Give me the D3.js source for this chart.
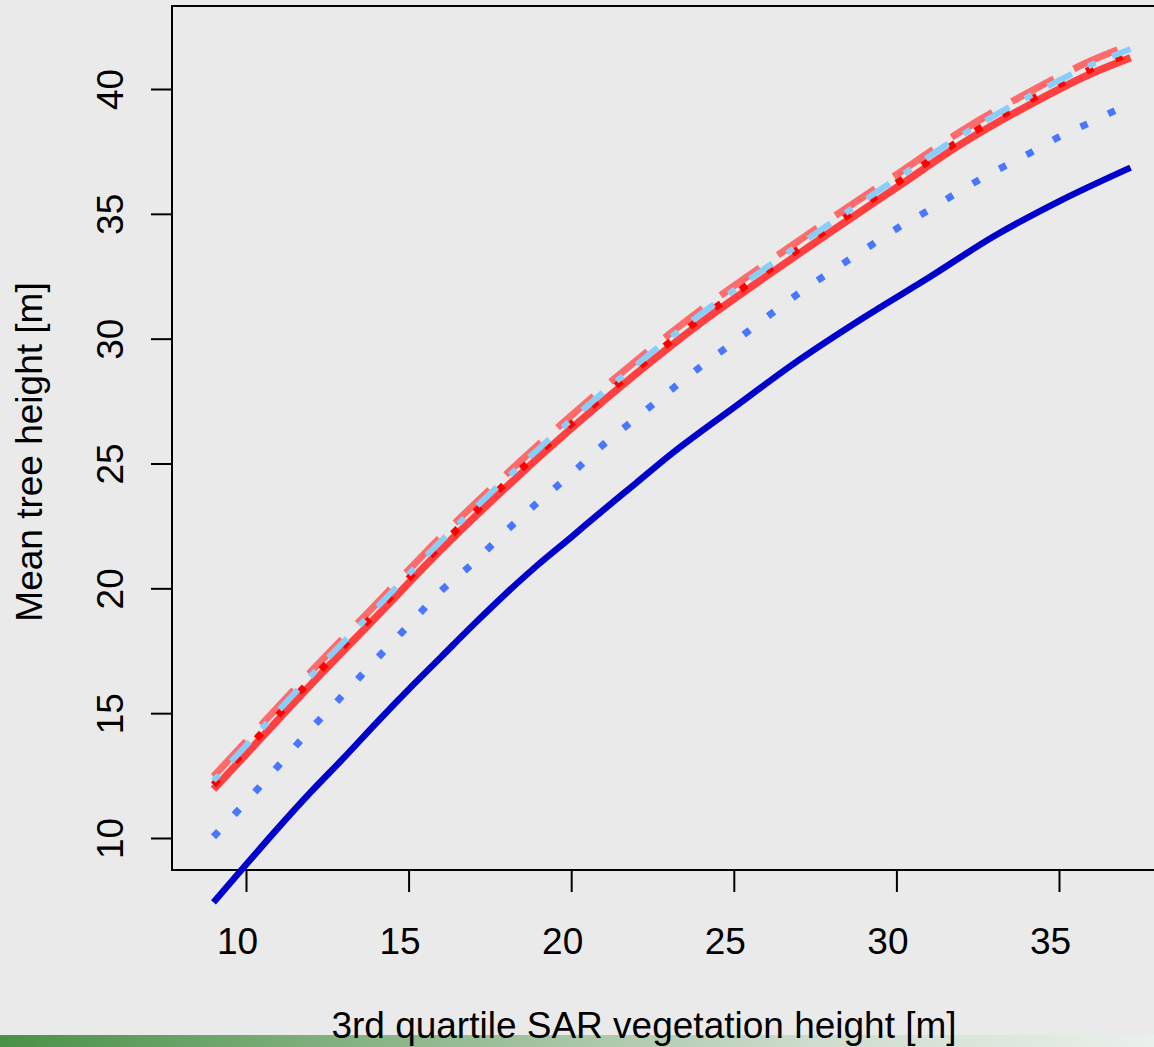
<!DOCTYPE html>
<html>
<head>
<meta charset="utf-8">
<script src="https://cdn.jsdelivr.net/npm/d3@7"></script>
<style>
  html, body { margin: 0; padding: 0; background: #eaeaea; }
  svg { display: block; }
  text { font-family: "Liberation Sans", Arial, Helvetica, sans-serif; fill: #000; }
</style>
</head>
<body>
<svg id="chart" width="1154" height="1047"></svg>
<script>
// ---- data ----
const xTicks = [10, 15, 20, 25, 30, 35];
const yTicks = [10, 15, 20, 25, 30, 35, 40];
const xLabel = "3rd quartile SAR vegetation height [m]";
const yLabel = "Mean tree height [m]";

// dark blue solid
const darkBlueX = [9, 10, 11, 12, 13, 14, 15, 16, 17, 18, 19, 20, 21, 22, 23, 25, 27, 29, 31, 33, 35, 37.2];
const darkBlueY = [7.42, 8.93, 10.42, 11.85, 13.2, 14.6, 15.95, 17.25, 18.55, 19.8, 20.97, 22.05, 23.15, 24.22, 25.3, 27.24, 29.14, 30.85, 32.45, 34.1, 35.5, 36.85];

// royal blue dotted
const blueDotX = [9, 10, 11, 12, 13, 14, 15, 16, 17, 18, 19, 20, 21, 22, 23, 24, 25, 26, 27, 28, 29, 30, 31, 32, 33, 34, 35, 36, 37.2];
const blueDotY = [10.05, 11.45, 12.9, 14.38, 15.75, 17.15, 18.52, 19.9, 21.03, 22.3, 23.47, 24.58, 25.77, 26.82, 27.88, 28.9, 29.86, 30.85, 31.82, 32.7, 33.55, 34.4, 35.15, 35.95, 36.69, 37.36, 38.08, 38.68, 39.45];

// red family shares x positions
const redX = [9, 10, 12, 14, 16, 18, 20, 22, 24, 26, 28, 30, 32, 34, 36, 37.2];
const redSolidY = [11.95, 13.35, 16.15, 18.85, 21.55, 24.05, 26.4, 28.6, 30.65, 32.5, 34.3, 36.05, 37.8, 39.3, 40.62, 41.25];
const redDotY = [12.13, 13.53, 16.33, 19.03, 21.73, 24.22, 26.58, 28.78, 30.83, 32.68, 34.48, 36.23, 37.98, 39.48, 40.8, 41.43];
const lightBlueY = [12.3, 13.7, 16.5, 19.2, 21.9, 24.4, 26.75, 28.95, 31.0, 32.85, 34.65, 36.4, 38.15, 39.65, 40.97, 41.6];
const pinkY = [12.47, 13.87, 16.67, 19.37, 22.07, 24.57, 26.92, 29.12, 31.17, 33.02, 34.82, 36.57, 38.32, 39.82, 41.14, 41.77];

// ---- drawing ----
(function () {
const svg = d3.select("#chart");
const W = 1154, H = 1047;
const plotLeft = 172, plotTop = 6, plotBottom = 870;

const x = d3.scaleLinear().domain([10, 35]).range([246, 1059]);
const y = d3.scaleLinear().domain([10, 40]).range([838, 89]);

svg.append("rect").attr("width", W).attr("height", H).attr("fill", "#eaeaea");

// bottom green gradient strip
const defs = svg.append("defs");
const grad = defs.append("linearGradient").attr("id", "gbar").attr("x1", "0%").attr("x2", "100%");
[[0, "#4a9148"], [0.35, "#8db78b"], [0.7, "#cddccc"], [1, "#eaf0ea"]].forEach(([o, c]) =>
  grad.append("stop").attr("offset", o).attr("stop-color", c));
svg.append("rect").attr("x", 0).attr("y", 1035).attr("width", W).attr("height", 12).attr("fill", "url(#gbar)");

// frame (right side is outside the picture)
svg.append("path")
  .attr("d", `M${W},${plotTop}H${plotLeft}V${plotBottom}H${W}`)
  .attr("fill", "none").attr("stroke", "#000").attr("stroke-width", 2);

// axes
const fs = 37;
const gx = svg.append("g").attr("transform", `translate(0,${plotBottom})`)
  .call(d3.axisBottom(x).tickValues(xTicks).tickSize(22).tickFormat(d3.format("d")));
gx.select(".domain").remove();
gx.selectAll("line").attr("stroke", "#000").attr("stroke-width", 2);
gx.selectAll("text").attr("y", 84).attr("dy", null).attr("x", -9)
  .attr("font-size", fs).attr("font-family", "Liberation Sans, Arial, sans-serif").attr("fill", "#000");

const gy = svg.append("g").attr("transform", `translate(${plotLeft},0)`)
  .call(d3.axisLeft(y).tickValues(yTicks).tickSize(21).tickFormat(d3.format("d")));
gy.select(".domain").remove();
gy.selectAll("line").attr("stroke", "#000").attr("stroke-width", 2);
gy.selectAll("text").attr("transform", "rotate(-90)").attr("x", 0).attr("y", -49).attr("dy", null)
  .attr("text-anchor", "middle")
  .attr("font-size", fs).attr("font-family", "Liberation Sans, Arial, sans-serif").attr("fill", "#000");

// axis titles
svg.append("text").attr("x", 644).attr("y", 1038).attr("text-anchor", "middle")
  .attr("font-size", fs).text(xLabel);
svg.append("text").attr("transform", `translate(42,452) rotate(-90)`).attr("text-anchor", "middle")
  .attr("font-size", fs).text(yLabel);

// curves
const line = d3.line().x(d => x(d[0])).y(d => y(d[1])).curve(d3.curveMonotoneX);
const zip = (a, b) => a.map((v, i) => [v, b[i]]);

const series = [
  { xs: darkBlueX, ys: darkBlueY, color: "#0000CD", w: 6.5, dash: null },
  { xs: blueDotX, ys: blueDotY, color: "#4876FF", w: 7, dash: "7.5,23" },
  { xs: redX, ys: pinkY, color: "#FF6A6A", w: 7, dash: "48,22" },
  { xs: redX, ys: redSolidY, color: "#FF4040", w: 7.5, dash: null },
  { xs: redX, ys: redDotY, color: "#FF0000", w: 7, dash: "7.5,24" },
  { xs: redX, ys: lightBlueY, color: "#87CEFA", w: 6, dash: "8,18,27,18" }
];

series.forEach(s => {
  svg.append("path")
    .attr("d", line(zip(s.xs, s.ys)))
    .attr("fill", "none")
    .attr("stroke", s.color)
    .attr("stroke-width", s.w)
    .attr("stroke-linecap", "butt")
    .attr("stroke-linejoin", "round")
    .attr("stroke-dasharray", s.dash);
});
})();
</script>
</body>
</html>
